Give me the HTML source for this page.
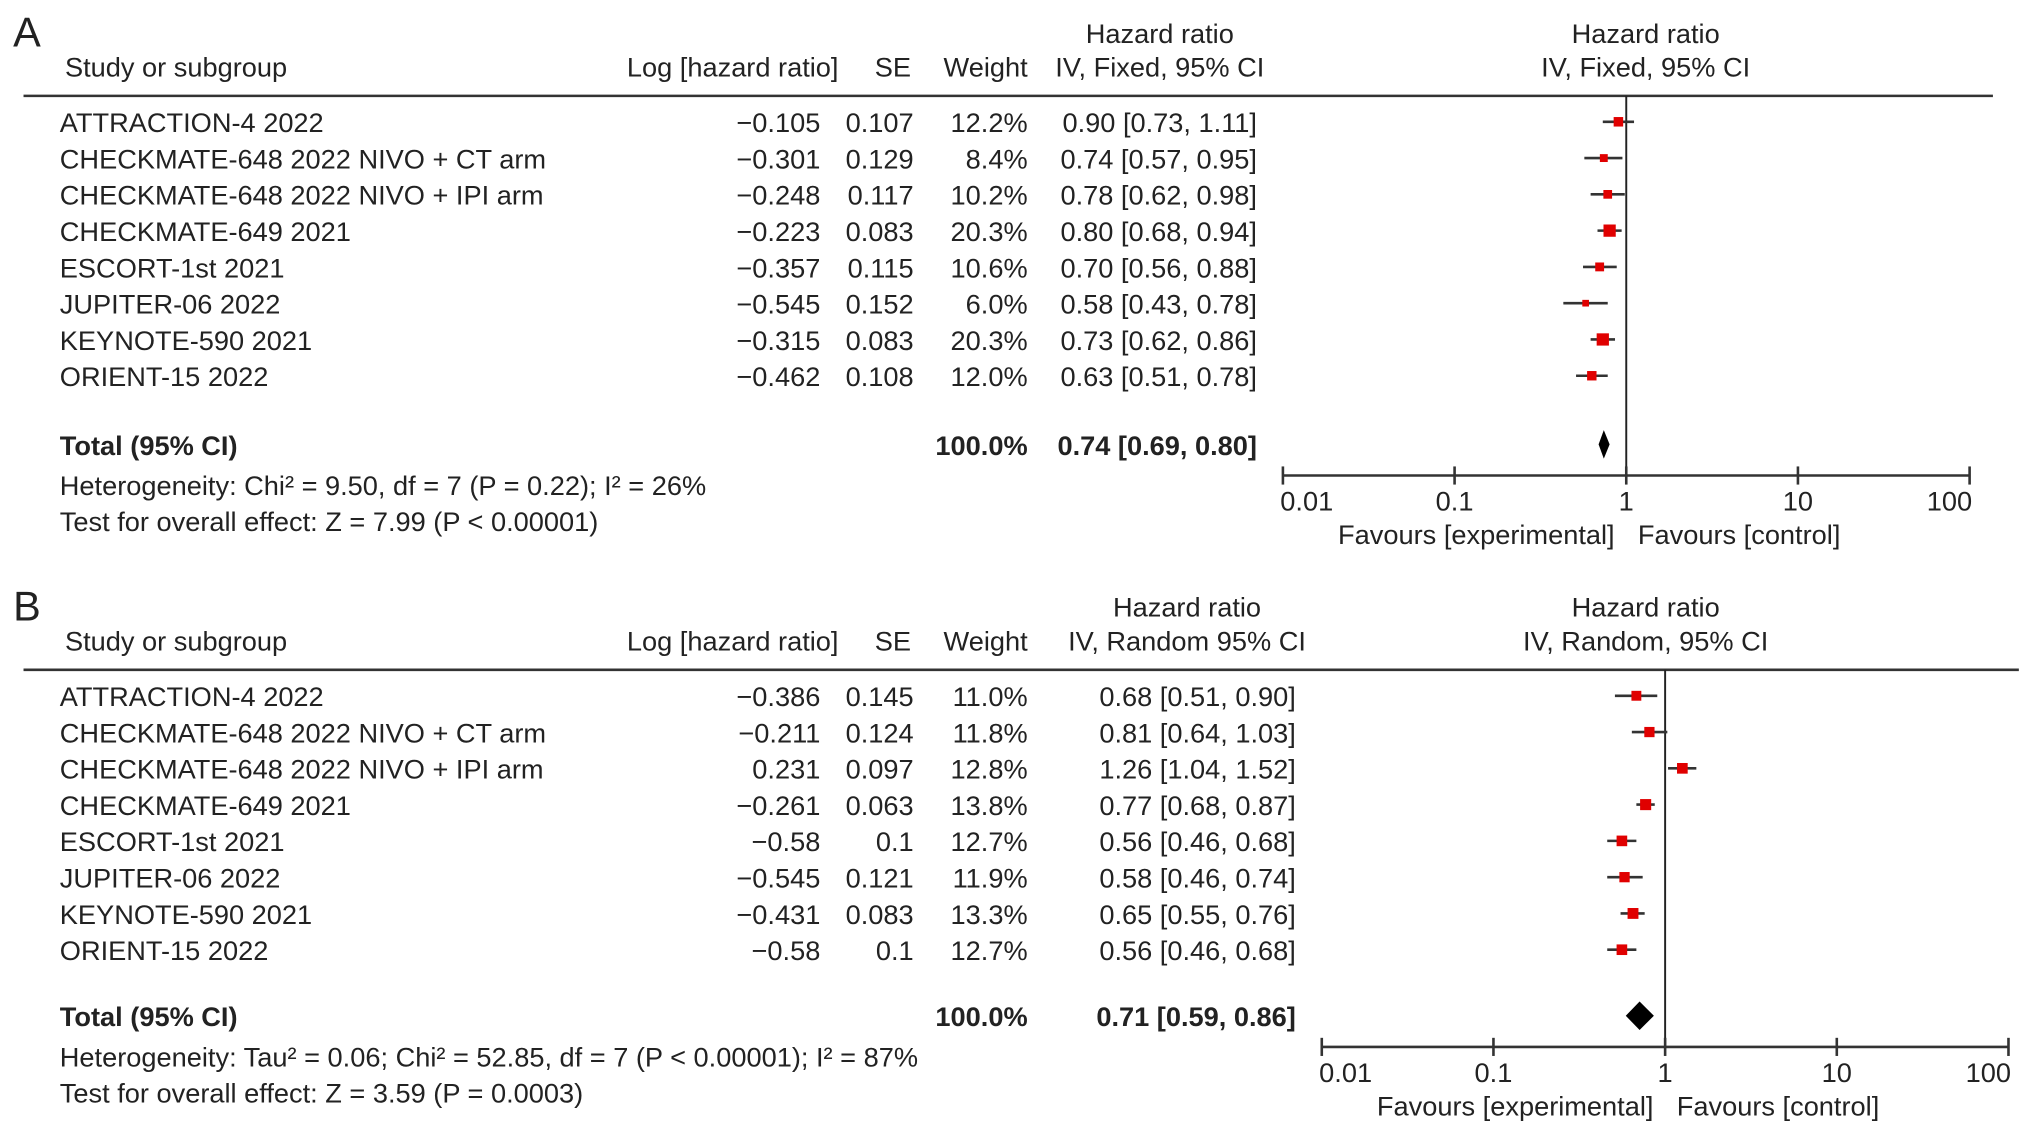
<!DOCTYPE html>
<html><head><meta charset="utf-8"><style>
html,body{margin:0;padding:0;background:#fff;}
svg{display:block;font-family:"Liberation Sans",Arial,sans-serif;}
text{font-size:21px;fill:#222;}
.b{font-weight:bold;}
</style></head><body>
<svg id="chart" width="2032" height="1135" viewBox="0 0 1568 876" xmlns="http://www.w3.org/2000/svg"></svg>
<script>
const studies = ["ATTRACTION-4 2022","CHECKMATE-648 2022 NIVO + CT arm","CHECKMATE-648 2022 NIVO + IPI arm","CHECKMATE-649 2021","ESCORT-1st 2021","JUPITER-06 2022","KEYNOTE-590 2021","ORIENT-15 2022"];
const logA = ["−0.105","−0.301","−0.248","−0.223","−0.357","−0.545","−0.315","−0.462"];
const seA = ["0.107","0.129","0.117","0.083","0.115","0.152","0.083","0.108"];
const wA = [12.2,8.4,10.2,20.3,10.6,6.0,20.3,12.0];
const hrA = [0.90,0.74,0.78,0.80,0.70,0.58,0.73,0.63];
const loA = [0.73,0.57,0.62,0.68,0.56,0.43,0.62,0.51];
const hiA = [1.11,0.95,0.98,0.94,0.88,0.78,0.86,0.78];
const totA = [0.74,0.69,0.80];
const logB = ["−0.386","−0.211","0.231","−0.261","−0.58","−0.545","−0.431","−0.58"];
const seB = ["0.145","0.124","0.097","0.063","0.1","0.121","0.083","0.1"];
const wB = [11.0,11.8,12.8,13.8,12.7,11.9,13.3,12.7];
const hrB = [0.68,0.81,1.26,0.77,0.56,0.58,0.65,0.56];
const loB = [0.51,0.64,1.04,0.68,0.46,0.46,0.55,0.46];
const hiB = [0.90,1.03,1.52,0.87,0.68,0.74,0.76,0.68];
const totB = [0.71,0.59,0.86];
const ticks = [0.01,0.1,1,10,100];
const tickLabels = ["0.01","0.1","1","10","100"];

const svg = document.getElementById('chart');
const NS = "http://www.w3.org/2000/svg";
function el(tag, attrs, txt){const e=document.createElementNS(NS,tag);for(const k in attrs)e.setAttribute(k,attrs[k]);if(txt!==undefined)e.textContent=txt;svg.appendChild(e);return e;}
function t(x,y,s,anchor,cls,name){const e=el('text',{x:x,y:y,'text-anchor':anchor||'start',class:cls||''},s);


return e;}
function f2(v){return v.toFixed(2);}

function panel(o){
  const Y=o.y0;
  t(10,Y-38,o.letter,'start','', 'panel-letter').setAttribute('style','font-size:32px');
  t(o.hrCx,Y-41,"Hazard ratio",'middle','','hr-column-title');
  t(50,Y-15,"Study or subgroup",'start','','study-header');
  t(647,Y-15,"Log [hazard ratio]",'end','','loghr-header');
  t(703,Y-15,"SE",'end','','se-header');
  t(793,Y-15,"Weight",'end','','weight-header');
  t(o.hrCx,Y-15,o.method,'middle','','method-header');
  t(1270,Y-41,"Hazard ratio",'middle','','plot-title');
  t(1270,Y-15,o.method2,'middle','','plot-method');
  const hl=el('line',{x1:18,x2:o.lineEnd,y1:Y,y2:Y,stroke:'#333','stroke-width':2});
  
  
  const x0=o.ax0, dec=(o.ax1-o.ax0)/4;
  const sx=v=>x0+(Math.log10(v)+2)*dec;
  const axY=o.axY;
  const vl=el('line',{x1:sx(1),x2:sx(1),y1:Y,y2:axY,stroke:'#222','stroke-width':1.5});
  
  
  const al=el('line',{x1:sx(0.01),x2:sx(100),y1:axY,y2:axY,stroke:'#333','stroke-width':2});
  
  
  ticks.forEach((v,i)=>{
    const tk=el('line',{x1:sx(v),x2:sx(v),y1:axY-7,y2:axY+7,stroke:'#333','stroke-width':2});
    
    
    const lx = i===0? sx(v)-2 : (i===4? sx(v)+2: sx(v));
    t(lx,axY+27,tickLabels[i],i===0?'start':(i===4?'end':'middle'),'','tick-label');
  });
  t(sx(1)-9,axY+53,"Favours [experimental]",'end','','favours-experimental');
  t(sx(1)+9,axY+53,"Favours [control]",'start','','favours-control');
  const rows=Y+28;
  studies.forEach((s,i)=>{
    const y=rows+i*28;
    t(46,y,s,'start','','study-name');
    t(633,y,o.log[i],'end','','loghr-value');
    t(705,y,o.se[i],'end','','se-value');
    t(793,y,o.w[i].toFixed(1)+"%",'end','','weight-value');
    t(o.ciR,y,f2(o.hr[i])+" ["+f2(o.lo[i])+", "+f2(o.hi[i])+"]",'end','','ci-value');
    const cy=y-8;
    const ci=el('line',{x1:sx(o.lo[i]),x2:sx(o.hi[i]),y1:cy,y2:cy,stroke:'#333','stroke-width':2});
    
    
    const sz=Math.sqrt(o.w[i])*o.ms;
    const sq=el('rect',{x:sx(o.hr[i])-sz/2,y:cy-sz/2,width:sz,height:sz,fill:'#e00000'});
    
    
  });
  const ty=o.totY;
  t(46,ty,"Total (95% CI)",'start','b','total-label');
  t(793,ty,"100.0%",'end','b','total-weight');
  t(o.ciR,ty,f2(o.tot[0])+" ["+f2(o.tot[1])+", "+f2(o.tot[2])+"]",'end','b','total-ci');
  const dy=ty-8,h=o.dh;
  const d=el('polygon',{points:`${sx(o.tot[1])},${dy} ${sx(o.tot[0])},${dy-h} ${sx(o.tot[2])},${dy} ${sx(o.tot[0])},${dy+h}`,fill:'#000'});
  
  
  t(46,ty+31,o.het,'start','','heterogeneity');
  t(46,ty+59,o.test,'start','','overall-effect');
}
panel({letter:"A",y0:74,hrCx:895,method:"IV, Fixed, 95% CI",method2:"IV, Fixed, 95% CI",lineEnd:1538,ax0:990,ax1:1520,axY:367,
  log:logA,se:seA,w:wA,hr:hrA,lo:loA,hi:hiA,tot:totA,ciR:970,ms:2.1,totY:351,dh:11,
  het:"Heterogeneity: Chi² = 9.50, df = 7 (P = 0.22); I² = 26%",test:"Test for overall effect: Z = 7.99 (P < 0.00001)"});
panel({letter:"B",y0:517,hrCx:916,method:"IV, Random 95% CI",method2:"IV, Random, 95% CI",lineEnd:1558,ax0:1020,ax1:1550,axY:808,
  log:logB,se:seB,w:wB,hr:hrB,lo:loB,hi:hiB,tot:totB,ciR:1000,ms:2.3,totY:792,dh:11,
  het:"Heterogeneity: Tau² = 0.06; Chi² = 52.85, df = 7 (P < 0.00001); I² = 87%",test:"Test for overall effect: Z = 3.59 (P = 0.0003)"});
</script>
</body></html>
